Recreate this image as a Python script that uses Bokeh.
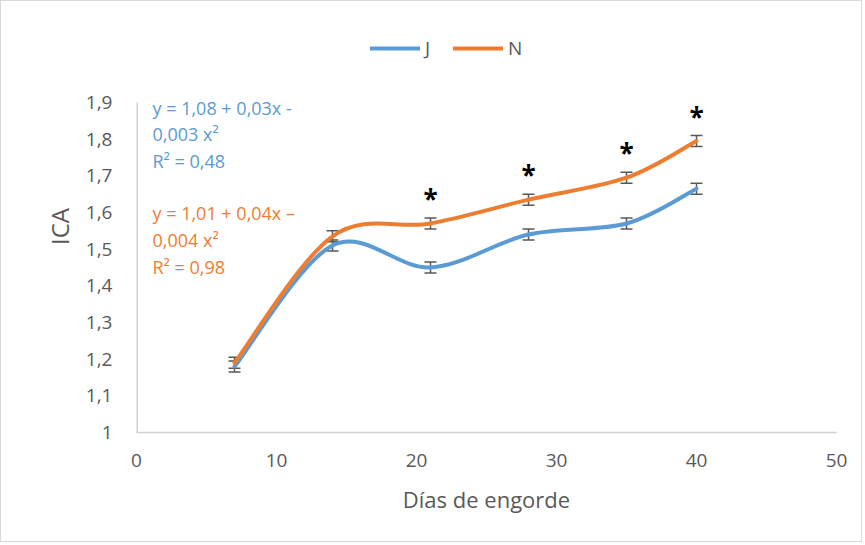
from bokeh.plotting import figure
from bokeh.models import (ColumnDataSource, Whisker, TeeHead, Label, Legend, LegendItem,
                          FixedTicker, Range1d)
from bokeh.core.properties import value
from bokeh.embed import file_html
from bokeh.resources import INLINE

# ---- data ----
days = [7, 14, 21, 28, 35, 40]
ica_J = [1.18, 1.51, 1.45, 1.54, 1.57, 1.665]
ica_N = [1.19, 1.535, 1.57, 1.635, 1.695, 1.795]
err_J = [0.015, 0.015, 0.015, 0.015, 0.015, 0.015]
err_N = [0.015, 0.015, 0.015, 0.015, 0.015, 0.015]
signif_days = [21, 28, 35, 40]
x_ticks = [0, 10, 20, 30, 40, 50]
y_ticks = [1.0, 1.1, 1.2, 1.3, 1.4, 1.5, 1.6, 1.7, 1.8, 1.9]
y_tick_labels = ["1", "1,1", "1,2", "1,3", "1,4", "1,5", "1,6", "1,7", "1,8", "1,9"]
eq_J = ["y = 1,08 + 0,03x -", "0,003 x²", "R² = 0,48"]
eq_N = ["y = 1,01 + 0,04x –", "0,004 x²", "R² = 0,98"]

BLUE = "#5B9BD5"
ORANGE = "#ED7D31"
GREY_TXT = "#595959"
AXIS_GREY = "#d0d0d0"
FONT = "Open Sans"

# layout: the frame extends above the axis top (1.9) to leave room for the legend
FRAME_TOP, AXIS_TOP, AXIS_BOTTOM = 20, 102, 432
y_lo, y_hi = y_ticks[0], y_ticks[-1]
y_end = y_hi + (AXIS_TOP - FRAME_TOP) / (AXIS_BOTTOM - AXIS_TOP) * (y_hi - y_lo)

p = figure(width=862, height=542, output_backend="svg", toolbar_location=None,
           x_range=Range1d(x_ticks[0], x_ticks[-1]), y_range=Range1d(y_lo, y_end),
           min_border_left=135, min_border_right=27, min_border_top=FRAME_TOP - 1,
           min_border_bottom=111)
p.styles = {"border": "1px solid #d9d9d9"}
p.outline_line_color = None
p.xgrid.visible = False
p.ygrid.visible = False
p.background_fill_color = "white"
p.border_fill_color = "white"

for ax in (p.xaxis[0], p.yaxis[0]):
    ax.axis_line_color = AXIS_GREY
    ax.axis_line_width = 1.5
    ax.major_tick_line_color = None
    ax.minor_tick_line_color = None
    ax.major_label_text_font = FONT
    ax.major_label_text_font_size = "19px"
    ax.major_label_text_color = GREY_TXT
    ax.axis_label_text_font = FONT
    ax.axis_label_text_font_style = "normal"
    ax.axis_label_text_color = GREY_TXT

p.xaxis.ticker = FixedTicker(ticks=x_ticks)
p.xaxis.major_label_standoff = 15
p.xaxis.axis_label = "Días de engorde"
p.xaxis.axis_label_text_font_size = "22px"
p.xaxis.axis_label_standoff = 14

p.yaxis.ticker = FixedTicker(ticks=y_ticks)
p.yaxis.major_label_overrides = {t: l for t, l in zip(y_ticks, y_tick_labels)}
p.yaxis.major_label_standoff = 18
p.yaxis.axis_label = "ICA"
p.yaxis.axis_label_text_font_size = "24px"
p.yaxis.axis_label_standoff = 7
p.yaxis.axis_line_color = None
# visible y axis line only from 1 to 1.9
p.segment(x0=[x_ticks[0]], y0=[y_lo], x1=[x_ticks[0]], y1=[y_hi], line_color=AXIS_GREY, line_width=3)


def smooth_segments(xs, ys):
    # Catmull-Rom style bezier control points computed from the data
    n = len(xs)
    seg = dict(x0=[], y0=[], x1=[], y1=[], cx0=[], cy0=[], cx1=[], cy1=[])
    for i in range(n - 1):
        xp, yp = (xs[i - 1], ys[i - 1]) if i > 0 else (xs[i], ys[i])
        xn2, yn2 = (xs[i + 2], ys[i + 2]) if i + 2 < n else (xs[i + 1], ys[i + 1])
        seg["x0"].append(xs[i]); seg["y0"].append(ys[i])
        seg["x1"].append(xs[i + 1]); seg["y1"].append(ys[i + 1])
        seg["cx0"].append(xs[i] + (xs[i + 1] - xp) / 6)
        seg["cy0"].append(ys[i] + (ys[i + 1] - yp) / 6)
        seg["cx1"].append(xs[i + 1] - (xn2 - xs[i]) / 6)
        seg["cy1"].append(ys[i + 1] - (yn2 - ys[i]) / 6)
    return ColumnDataSource(seg)


rJ = p.bezier(x0="x0", y0="y0", x1="x1", y1="y1", cx0="cx0", cy0="cy0", cx1="cx1", cy1="cy1",
              source=smooth_segments(days, ica_J), line_color=BLUE, line_width=4, line_cap="round")
rN = p.bezier(x0="x0", y0="y0", x1="x1", y1="y1", cx0="cx0", cy0="cy0", cx1="cx1", cy1="cy1",
              source=smooth_segments(days, ica_N), line_color=ORANGE, line_width=4, line_cap="round")

# error bars
for vals, errs in ((ica_J, err_J), (ica_N, err_N)):
    src = ColumnDataSource(dict(x=days, lo=[v - e for v, e in zip(vals, errs)],
                                hi=[v + e for v, e in zip(vals, errs)]))
    w = Whisker(base="x", lower="lo", upper="hi", source=src, line_color=GREY_TXT, line_width=1.5,
                upper_head=TeeHead(size=12, line_color=GREY_TXT, line_width=1.5),
                lower_head=TeeHead(size=12, line_color=GREY_TXT, line_width=1.5))
    p.add_layout(w)

# significance asterisks
sig_y = [ica_N[days.index(d)] + err_N[days.index(d)] for d in signif_days]
p.text(x=signif_days, y=sig_y, text=["*"] * len(signif_days), text_align="center",
       text_baseline="alphabetic", text_font=value(FONT), text_font_size="26px",
       text_font_style="bold", text_color="black", y_offset=-19)

# legend (hidden line renderers provide the legend glyphs)
lJ = p.line(x=days, y=ica_J, line_color=BLUE, line_width=4, line_cap="round", visible=False)
lN = p.line(x=days, y=ica_N, line_color=ORANGE, line_width=4, line_cap="round", visible=False)
legend = Legend(items=[LegendItem(label="J", renderers=[lJ]), LegendItem(label="N", renderers=[lN])],
                orientation="horizontal", location=(234, 371), border_line_color=None,
                background_fill_alpha=0, label_text_font=FONT, label_text_font_size="19px",
                label_text_color=GREY_TXT, glyph_width=50, glyph_height=20, label_height=20,
                label_standoff=5, spacing=8, padding=0, margin=0)
p.add_layout(legend, "center")

# equations
for i, t in enumerate(eq_J):
    p.add_layout(Label(x=16, y=325 - i * 26.5, x_units="screen", y_units="screen", text=t,
                       text_font=FONT, text_font_size="18px", text_color=BLUE,
                       text_baseline="middle"))
for i, t in enumerate(eq_N):
    p.add_layout(Label(x=16, y=220 - i * 27, x_units="screen", y_units="screen", text=t,
                       text_font=FONT, text_font_size="18px", text_color=ORANGE,
                       text_baseline="middle"))

open("out.html", "w").write(file_html(p, INLINE))
